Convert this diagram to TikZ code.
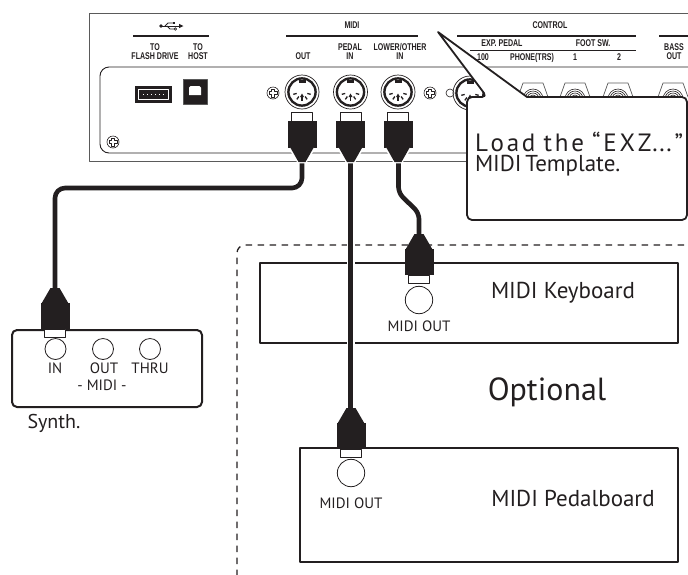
\documentclass[tikz,border=0pt]{standalone}
\usepackage{fontspec}
\usepackage{graphicx}
\setmainfont{PT Sans}
\newfontfamily\panelfont{Liberation Sans}
\definecolor{ink}{HTML}{231F20}
\definecolor{frame}{HTML}{5A5A5A}
% condensed bold labels printed on the rear panel
\newcommand\plab[1]{\scalebox{0.72}[1]{\panelfont\bfseries\fontsize{9.8}{8}\selectfont\begin{tabular}{@{}c@{}}#1\end{tabular}}}
\tikzset{
  framel/.style={draw=frame, line width=0.9pt},
  panelline/.style={draw=ink, line width=0.9pt},
  rule/.style={draw=ink, line width=1.3pt},
  cable/.style={draw=ink, line width=4.6pt},
  casing/.style={draw=white, line width=8pt},
  devbox/.style={draw=ink, line width=2pt},
  collar/.style={fill=white, draw=ink, line width=0.8pt},
  lbl/.style={font=\fontsize{15}{15}\selectfont},
  biglbl/.style={font=\fontsize{23}{23}\selectfont},
  screw/.pic={
    \draw[ink, line width=0.6pt] (0,0) circle (6);
    \draw[ink, line width=0.6pt] (-1.5,-4)--(1.5,-4)--(1.5,-1.5)--(4,-1.5)--(4,1.5)--(1.5,1.5)--(1.5,4)--(-1.5,4)--(-1.5,1.5)--(-4,1.5)--(-4,-1.5)--(-1.5,-1.5)--cycle;
  },
  din/.pic={
    \draw[ink, line width=0.7pt] (0,0) circle (17);
    \draw[ink, line width=2.4pt] (0,0) circle (13.6);
    \fill[ink] (-3.5,-12.5) rectangle (3.5,-9);
    \foreach \a in {165,125,55,15} \draw[ink, line width=1.3pt] (\a:5.5) -- (\a:9);
    \draw[ink, line width=1.1pt] (0,4) -- (0,9);
    \fill[ink] (0,1.5) -- (-2,5) -- (2,5) -- cycle;
  },
  jack/.pic={
    \draw[frame, line width=0.7pt] (-15,14) -- (-10,0) -- (10,0) -- (15,14);
    \foreach \r in {4,6,8,10} \draw[ink, line width=0.6pt] (-\r,16) arc[start angle=180, end angle=360, radius=\r];
  },
  plugdown/.pic={
    \draw[collar] (-10.5,0) rectangle (10.5,9);
    \fill[ink] (-14.5,9) rectangle (14.5,36);
    \draw[white, line width=2.5pt] (-12,36) -- (-3.5,50) -- (3.5,50) -- (12,36);
    \fill[ink] (-12,35) -- (12,35) -- (3.5,50) -- (-3.5,50) -- cycle;
  },
  plugup/.pic={
    \fill[ink] (-4.5,0) -- (4.5,0) -- (13.5,15.5) -- (-13.5,15.5) -- cycle;
    \fill[ink] (-14.5,15) rectangle (14.5,41);
    \draw[collar] (-10.5,41) rectangle (10.5,49);
  },
}
\begin{document}
\begin{tikzpicture}[x=1pt, y=-1pt, line join=round,
  every node/.style={inner sep=0pt, outer sep=0pt, text=ink}]
\useasboundingbox (0,0) rectangle (688,574);
\clip (0,0) rectangle (688,574);

% ---------- rear panel ----------
\draw[framel] (700,13) -- (89,13) -- (89,161) -- (700,161);
\draw[panelline, rounded corners=9] (700,67) -- (100,67) -- (100,153) -- (700,153);

% group rules
\draw[rule] (133,36) -- (209,36);
\draw[rule] (286,36) -- (418,36);
\draw[rule] (457,36) -- (636,36);
\draw[rule] (659,36) -- (700,36);
\draw[ink, line width=0.9pt] (470,50) -- (636,50);

% USB symbol
\fill[ink] (161,26) circle (1.8);
\draw[ink, line width=0.8pt] (161,26) -- (180,26);
\fill[ink] (183.5,26) -- (179,23.8) -- (179,28.2) -- cycle;
\draw[ink, line width=0.8pt] (165,26) -- (168,23) -- (173,23);
\fill[ink] (173,21.8) rectangle (175.4,24.2);
\draw[ink, line width=0.8pt] (167,26) -- (170,29) -- (174,29);
\draw[ink, line width=0.7pt] (175.3,29) circle (1.3);

% panel labels
\node (lbFlash) at (155,53) {\plab{TO\\FLASH DRIVE}};
\node (lbHost)  at (198,53) {\plab{TO\\HOST}};
\node (lbMidi)  at (352,26) {\plab{MIDI}};
\node (lbOut)   at (303,57) {\plab{OUT}};
\node (lbPedal) at (350,53) {\plab{PEDAL\\IN}};
\node (lbLower) at (400,53) {\plab{LOWER/OTHER\\IN}};
\node (lbCtrl)  at (550,26) {\plab{CONTROL}};
\node (lbExp)   at (502,44) {\plab{EXP. PEDAL}};
\node (lbFoot)  at (593,44) {\plab{FOOT SW.}};
\node (lbHund)  at (483,58) {\plab{100}};
\node (lbPhone) at (532,58) {\plab{PHONE(TRS)}};
\node (lbOne)   at (575,58) {\plab{1}};
\node (lbTwo)   at (619,58) {\plab{2}};
\node (lbBass)  at (674,53) {\plab{BASS\\OUT}};

% USB ports
\fill[ink] (135,86) rectangle (172,103);
\draw[white, line width=0.7pt] (138.5,89.5) rectangle (168.5,99.5);
\draw[white, line width=0.5pt, dash pattern=on 1pt off 3pt] (143,94.5) -- (165,94.5);
\filldraw[fill=ink, draw=frame, line width=0.8pt] (183,79) rectangle (207,104);
\fill[white] (190.5,86) -- (199.5,86) -- (201,87.5) -- (201,95) -- (189,95) -- (189,87.5) -- cycle;

% screws and sockets
\pic at (113,142) {screw};
\pic at (273,93) {screw};
\pic at (430,93) {screw};
\draw[ink, line width=0.6pt] (450,93) circle (4);
\pic at (302,92) {din};
\pic at (350.5,92) {din};
\pic at (398,92) {din};
\pic at (470,93) {din};
\foreach \jx in {533,575,618,673} \pic at (\jx,83) {jack};

% ---------- callout ----------
\filldraw[fill=white, draw=ink, line width=1.8pt]
  (487,97) -- (438,32) -- (527,97) [rounded corners=5] -- (687,97) -- (687,220) -- (467,220) -- (467,97) -- cycle;
\node[anchor=north west, align=left, font=\fontsize{23}{20}\selectfont] (note) at (475,132)
  {{\fontsize{25}{20}\selectfont\makebox[208pt][l]{L\hfill o\hfill a\hfill d\hfill\hfill\hfill t\hfill h\hfill e\hfill\hfill\hfill “\hfill E\hfill X\hfill Z\hspace{1pt}...\hfill ”}}\\MIDI\,Template.};

% ---------- optional devices ----------
\draw[ink, line width=1.3pt, dash pattern=on 6.5pt off 5.5pt, rounded corners=8] (237,600) -- (237,245) -- (720,245);
\draw[devbox] (260,263) rectangle (678,343);
\draw[devbox] (300,448) rectangle (678,562);
\draw[devbox, rounded corners=5] (12,330) rectangle (202,407);

\node[biglbl] (kbdName) at (563,293) {MIDI Keyboard};
\node[font=\fontsize{32}{32}\selectfont] (optName) at (547,392) {Optional};
\node[biglbl] (pedName) at (573,498) {MIDI Pedalboard};

% synth sockets
\draw[ink, line width=0.8pt] (55.5,349) circle (10.5);
\draw[ink, line width=0.8pt] (103,349) circle (10.5);
\draw[ink, line width=0.8pt] (150,349) circle (10.5);
\node[lbl] (synIn)   at (55,368) {IN};
\node[lbl] (synOut)  at (104,368) {OUT};
\node[lbl] (synThru) at (150,368) {THRU};
\node[lbl] (synMidi) at (102,385) {- MIDI -};
\node[font=\fontsize{20}{20}\selectfont, anchor=base] (synName) at (54,428) {Synth.};

% device MIDI OUT sockets
\draw[ink, line width=0.8pt] (419,300) circle (13.7);
\node[lbl] (kbdOut) at (419,326) {MIDI OUT};
\draw[ink, line width=0.8pt] (351,473) circle (13.7);
\node[lbl] (pedOut) at (351,503) {MIDI OUT};

% ---------- cables ----------
\coordinate (outTip) at (302,158);
\coordinate (pedTip) at (350.5,158);
\coordinate (lowTip) at (398.5,158);
\coordinate (outBend) at (55,188);
\coordinate (lowBendA) at (398.5,193);
\coordinate (lowBendB) at (419,213);
\coordinate (synthTip) at (55,292);
\coordinate (kbdTip) at (419,237);
\coordinate (pedalTip) at (350.5,412);

\draw[cable, rounded corners=10] (outTip) |- (outBend) -- (synthTip);
\draw[casing] (pedTip) -- (pedalTip);
\draw[cable] (pedTip) -- (pedalTip);
\draw[cable, rounded corners=6] (lowTip) -- (lowBendA) -- (lowBendB) -- (kbdTip);

% plugs
\pic at (302,112) {plugdown};
\pic at (350.5,112) {plugdown};
\pic at (398,112) {plugdown};
\pic at (55,288) {plugup};
\pic at (419,234) {plugup};
\pic at (351,408) {plugup};
\end{tikzpicture}
\end{document}
